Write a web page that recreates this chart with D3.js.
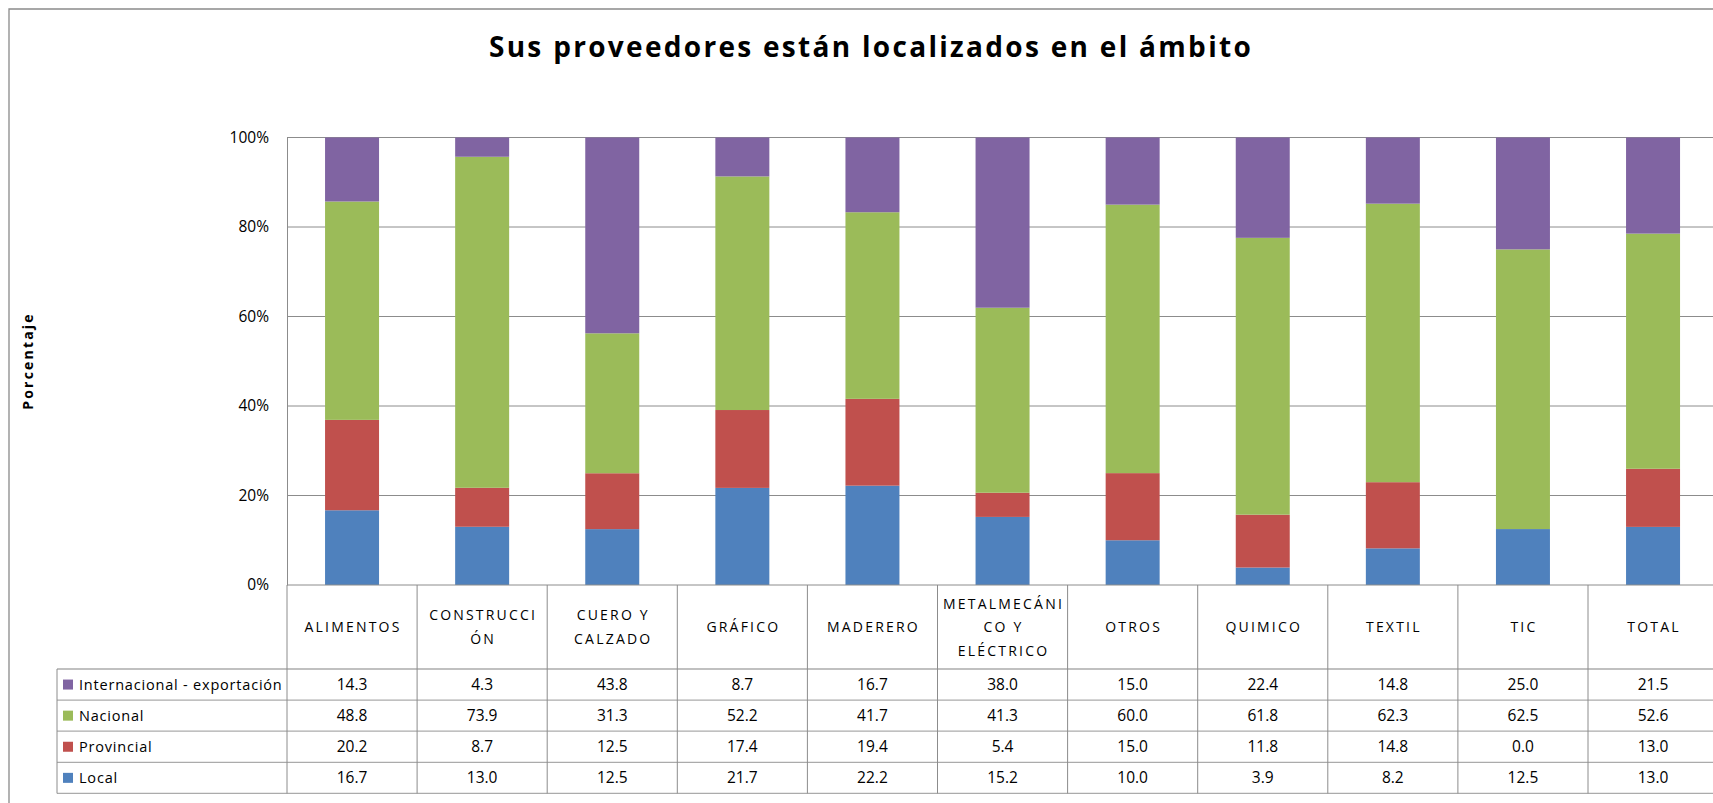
<!DOCTYPE html>
<html>
<head>
<meta charset="utf-8">
<script src="https://cdn.jsdelivr.net/npm/d3@7/dist/d3.min.js"></script>
<style>
  body { margin: 0; background: #fff; }
  svg { display: block; font-family: "Open Sans", sans-serif; }
</style>
</head>
<body>
<div id="chart"></div>
<script>
const categories = ["ALIMENTOS", "CONSTRUCCIÓN", "CUERO Y CALZADO", "GRÁFICO", "MADERERO",
  "METALMECÁNICO Y ELÉCTRICO", "OTROS", "QUIMICO", "TEXTIL", "TIC", "TOTAL"];
// header cells wrap the same way the reference does
const headerLines = [["ALIMENTOS"], ["CONSTRUCCI", "ÓN"], ["CUERO Y", "CALZADO"], ["GRÁFICO"],
  ["MADERERO"], ["METALMECÁNI", "CO Y", "ELÉCTRICO"], ["OTROS"], ["QUIMICO"], ["TEXTIL"], ["TIC"], ["TOTAL"]];

const seriesNames = ["Internacional - exportación", "Nacional", "Provincial", "Local"];
const seriesColors = ["#8064A2", "#9BBB59", "#C0504D", "#4F81BD"];

const internacional = [14.3, 4.3, 43.8, 8.7, 16.7, 38.0, 15.0, 22.4, 14.8, 25.0, 21.5];
const nacional      = [48.8, 73.9, 31.3, 52.2, 41.7, 41.3, 60.0, 61.8, 62.3, 62.5, 52.6];
const provincial    = [20.2, 8.7, 12.5, 17.4, 19.4, 5.4, 15.0, 11.8, 14.8, 0.0, 13.0];
const local         = [16.7, 13.0, 12.5, 21.7, 22.2, 15.2, 10.0, 3.9, 8.2, 12.5, 13.0];

const yTicks = [0, 0.2, 0.4, 0.6, 0.8, 1];

const title = "Sus proveedores están localizados en el ámbito";
const yLabel = "Porcentaje";

(() => {
  const W = 1713, H = 803;
  const plot = { left: 287, top: 137.5, bottom: 585, step: 130.1 };
  const table = { left: 57, headerBottom: 669, rowH: 31.1 };

  const svg = d3.select("#chart")
    .append("svg")
    .attr("width", W)
    .attr("height", H);

  svg.append("rect").attr("width", W).attr("height", H).attr("fill", "#fff");

  // outer chart border (only top and left are inside the picture)
  svg.append("path")
    .attr("d", `M9,${H} V9 H${W}`)
    .attr("fill", "none")
    .attr("stroke", "#8a8a8a")
    .attr("stroke-width", 1.3);

  const rows = categories.map((c, i) => ({
    cat: c,
    Local: local[i],
    Provincial: provincial[i],
    Nacional: nacional[i],
    "Internacional - exportación": internacional[i]
  }));
  const stackKeys = seriesNames.slice().reverse();
  const stacked = d3.stack().keys(stackKeys).offset(d3.stackOffsetExpand)(rows);
  const color = d3.scaleOrdinal().domain(seriesNames).range(seriesColors);

  const x = d3.scaleBand()
    .domain(categories)
    .range([plot.left, plot.left + plot.step * categories.length])
    .padding(0);

  const y = d3.scaleLinear()
    .domain([0, 1])
    .range([plot.bottom, plot.top]);

  // gridlines
  svg.append("g")
    .selectAll("line")
    .data(yTicks.filter(d => d > 0))
    .enter()
    .append("line")
    .attr("x1", plot.left).attr("x2", W)
    .attr("y1", d => y(d)).attr("y2", d => y(d))
    .attr("stroke", "#8c8c8c")
    .attr("stroke-width", 1);

  // bars
  const barW = x.bandwidth() * 0.415;
  svg.append("g")
    .selectAll("g")
    .data(stacked)
    .enter()
    .append("g")
    .attr("fill", d => color(d.key))
    .selectAll("rect")
    .data(d => d)
    .enter()
    .append("rect")
    .attr("x", d => x(d.data.cat) + (x.bandwidth() - barW) / 2)
    .attr("y", d => y(d[1]))
    .attr("height", d => y(d[0]) - y(d[1]))
    .attr("width", barW);

  // y axis
  const yAxis = svg.append("g")
    .attr("transform", `translate(${plot.left},0)`)
    .call(d3.axisLeft(y).tickValues(yTicks).tickFormat(d3.format(".0%")).tickSize(0).tickPadding(18));
  yAxis.select(".domain").attr("stroke", "#8c8c8c");
  yAxis.selectAll("text")
    .style("font-family", "Open Sans, sans-serif")
    .style("font-size", "15.5px")
    .attr("fill", "#000");

  // title
  svg.append("text")
    .attr("x", 871)
    .attr("y", 57)
    .attr("text-anchor", "middle")
    .style("font-size", "28px")
    .style("font-weight", "bold")
    .style("letter-spacing", "2.3px")
    .text(title);

  svg.append("text")
    .attr("transform", "translate(33,361) rotate(-90)")
    .attr("text-anchor", "middle")
    .style("font-size", "14px")
    .style("font-weight", "bold")
    .style("letter-spacing", "2.2px")
    .text(yLabel);

  // data table
  const tableBottom = table.headerBottom + table.rowH * seriesNames.length;
  const grid = svg.append("g");

  // x axis line / header top
  grid.append("line")
    .attr("x1", plot.left).attr("x2", W)
    .attr("y1", plot.bottom).attr("y2", plot.bottom)
    .attr("stroke", "#8c8c8c");

  // horizontal row lines
  d3.range(seriesNames.length + 1).forEach(i => {
    const yy = table.headerBottom + i * table.rowH;
    grid.append("line")
      .attr("x1", table.left).attr("x2", W)
      .attr("y1", yy).attr("y2", yy)
      .attr("stroke", "#ababab")
      .attr("stroke-width", 1.3);
  });

  // vertical lines
  grid.append("line")
    .attr("x1", table.left).attr("x2", table.left)
    .attr("y1", table.headerBottom).attr("y2", tableBottom)
    .attr("stroke", "#8c8c8c");
  grid.selectAll(".vline")
    .data(categories)
    .enter()
    .append("line")
    .attr("x1", d => x(d)).attr("x2", d => x(d))
    .attr("y1", plot.bottom).attr("y2", tableBottom)
    .attr("stroke", "#8c8c8c");

  // header labels
  const headerMid = (plot.bottom + table.headerBottom) / 2;
  categories.forEach((c, i) => {
    const lines = headerLines[i];
    const t = svg.append("text")
      .attr("text-anchor", "middle")
      .style("font-size", "14px")
      .style("letter-spacing", "2.2px");
    lines.forEach((ln, j) => {
      t.append("tspan")
        .attr("x", x(c) + x.bandwidth() / 2 + 1)
        .attr("y", headerMid + 5 + (j - (lines.length - 1) / 2) * 23.5)
        .text(ln);
    });
  });

  // legend keys + values
  const seriesValues = [internacional, nacional, provincial, local];
  seriesNames.forEach((s, r) => {
    const mid = table.headerBottom + r * table.rowH + table.rowH / 2;
    svg.append("rect")
      .attr("x", 63).attr("y", mid - 5)
      .attr("width", 10).attr("height", 10)
      .attr("fill", color(s));
    svg.append("text")
      .attr("x", 79).attr("y", mid + 5.5)
      .style("font-size", "14.5px")
      .style("letter-spacing", "0.8px")
      .text(s);
    svg.append("g")
      .selectAll("text")
      .data(seriesValues[r])
      .enter()
      .append("text")
      .attr("x", (d, i) => x(categories[i]) + x.bandwidth() / 2)
      .attr("y", mid + 5.5)
      .attr("text-anchor", "middle")
      .style("font-size", "15.5px")
      .text(d => d.toFixed(1));
  });
})();
</script>
</body>
</html>
